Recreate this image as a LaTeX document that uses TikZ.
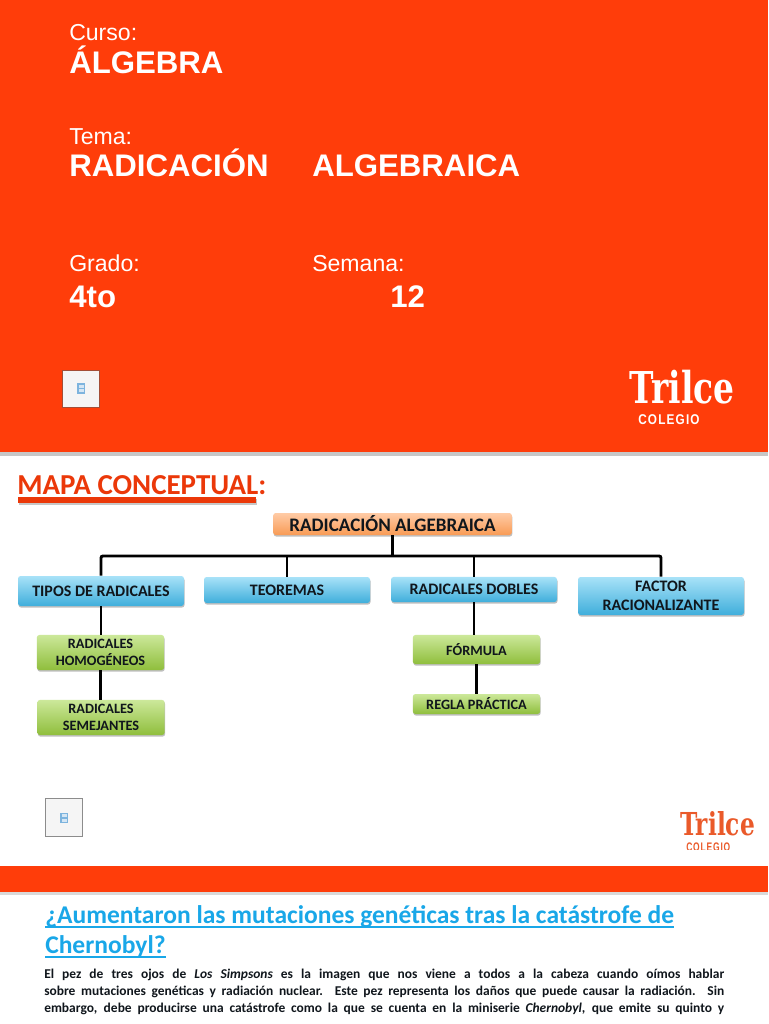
\documentclass[tikz,border=0pt]{standalone}
\usepackage{fontspec}
\setmainfont{Carlito}
\newfontfamily\arialf{Liberation Sans}
\newfontfamily\slabf{DejaVu Serif}
\newfontfamily\colegf[LetterSpace=10]{Liberation Sans}
\usetikzlibrary{shadows}
\definecolor{trilce}{HTML}{FF3D0A}
\definecolor{trilcedim}{HTML}{EA5A2A}
\definecolor{linkblue}{HTML}{19A7E8}
\definecolor{inkc}{HTML}{10161C}
\definecolor{iconblue}{HTML}{7DB4DE}
\definecolor{icontint}{HTML}{D5E6F4}
\definecolor{ortop}{HTML}{FFCBA6}
\definecolor{orbot}{HTML}{F89B55}
\definecolor{bltop}{HTML}{A8E2F8}
\definecolor{blbot}{HTML}{3FAEDB}
\definecolor{grtop}{HTML}{CCE89A}
\definecolor{grbot}{HTML}{8FBE3C}
\tikzset{
  cbox/.style={rounded corners=2pt,inner sep=0pt,align=center,text=inkc,
    font=\fontsize{12pt}{13.8pt}\selectfont\bfseries,
    drop shadow={shadow xshift=0.4pt,shadow yshift=-1.2pt,fill=black,opacity=.25}},
  orbox/.style={cbox,top color=ortop,bottom color=orbot,font=\fontsize{14.3pt}{16pt}\selectfont\bfseries},
  blbox/.style={cbox,top color=bltop,bottom color=blbot},
  grbox/.style={cbox,top color=grtop,bottom color=grbot,font=\fontsize{10.7pt}{12.8pt}\selectfont\bfseries},
  link/.style={line width=2.2pt,black,rounded corners=1.5pt},
  head/.style={anchor=base west,inner sep=0pt,text=white,font=\arialf\fontsize{17.3pt}{20pt}\selectfont},
  headb/.style={anchor=base west,inner sep=0pt,text=white,font=\arialf\bfseries\fontsize{23.4pt}{26pt}\selectfont},
  ttl/.style={anchor=base west,inner sep=0pt,text=linkblue,font=\bfseries\fontsize{19.15pt}{22pt}\selectfont},
  bodyline/.style={anchor=base west,inner sep=0pt,text=inkc,font=\fontsize{10.1pt}{12.8pt}\selectfont\bfseries},
  iconbox/.style={rectangle,fill=white!96!black,inner sep=0pt,minimum width=28pt,minimum height=28pt},
  iconmark/.style={draw=iconblue,line width=1.1pt,fill=icontint},
  logo/.style={anchor=base west,inner sep=0pt},
}
\begin{document}
\begin{tikzpicture}[x=0.75pt,y=-0.75pt]
\useasboundingbox (0,0) rectangle (768,1024);
\clip (0,0) rectangle (768,1024);
\fill[white] (0,0) rectangle (768,1024);
% header band
\fill[black!22] (0,452) rectangle (768,456);
\fill[trilce] (0,0) rectangle (768,452);
\node[head] (curso) at (69,41) {Curso:};
\node[headb] (alg) at (69,74) {ÁLGEBRA};
\node[head] (tema) at (69,144) {Tema:};
\node[headb] (rad) at (69,176) {RADICACIÓN};
\node[headb] (algb) at (312,176) {ALGEBRAICA};
\node[head] (grado) at (69,271) {Grado:};
\node[head] (semana) at (312,271) {Semana:};
\node[headb] (cuarto) at (69,307) {4to};
\node[headb] (doce) at (390,307) {12};
% icon 1
\node[iconbox,draw=trilce!55!black!80!white,line width=.8pt] (ic1) at (81,389) {};
\draw[iconmark] (78,384) rectangle (84.5,393);
\draw[iconblue,line width=.9pt] (78,388.5) -- (84.5,388.5);
% logo 1
\node[logo,text=white] (lg1) at (629,403) {\resizebox{79pt}{25pt}{\slabf\bfseries Trilce}};
\node[logo,text=white] (cg1) at (638,424.5) {\resizebox{46pt}{7.4pt}{\colegf\bfseries COLEGIO}};
% section title
\node[anchor=base west,inner sep=0pt,text=trilce!92!black,font=\bfseries\fontsize{21.7pt}{24pt}\selectfont] (mapa) at (17,494) {MAPA CONCEPTUAL:};
\fill[black!22] (19,499) rectangle (257,505);
\fill[trilce!92!black] (18,497) rectangle (256,503);
% concept map
\coordinate (bus) at (392.5,556);
\node[orbox,minimum width=179pt,minimum height=16.5pt] (root) at (392.5,524) {RADICACIÓN ALGEBRAICA};
\node[blbox,minimum width=124.5pt,minimum height=22.5pt] (tipos) at (101,591) {TIPOS DE RADICALES};
\node[blbox,minimum width=124.5pt,minimum height=19.5pt] (teo) at (287,590) {TEOREMAS};
\node[blbox,minimum width=124.5pt,minimum height=18.8pt] (dob) at (474,589.5) {RADICALES DOBLES};
\node[blbox,minimum width=124.5pt,minimum height=28.5pt] (fac) at (661,596) {FACTOR\\RACIONALIZANTE};
\node[grbox,minimum width=95.5pt,minimum height=26.3pt] (hom) at (100.5,652.5) {RADICALES\\HOMOGÉNEOS};
\node[grbox,minimum width=95.5pt,minimum height=26.3pt] (sem) at (101,717.5) {RADICALES\\SEMEJANTES};
\node[grbox,minimum width=95.5pt,minimum height=21.8pt] (for) at (476.5,649.5) {FÓRMULA};
\node[grbox,minimum width=95.5pt,minimum height=15pt] (reg) at (476.5,704) {REGLA PRÁCTICA};
\draw[link] (root.south) -- (bus);
\draw[link] (tipos.north) |- (bus) -| (fac.north);
\draw[link] (teo.north) -- (teo.north |- bus);
\draw[link] (dob.north) -- (dob.north |- bus);
\draw[link] (tipos.south) -- (tipos.south |- hom.north);
\draw[link] (hom.south) -- (hom.south |- sem.north);
\draw[link] (dob.south) -- (dob.south |- for.north);
\draw[link] (for.south) -- (reg.north);
% icon 2
\node[iconbox,draw=black!45,line width=.8pt] (ic2) at (64,817.5) {};
\draw[iconmark] (61,813.5) rectangle (67.5,822.5);
\draw[iconblue,line width=.9pt] (61,818) -- (67.5,818);
% logo 2
\node[logo,text=trilcedim] (lg2) at (680,835) {\resizebox{56pt}{18pt}{\slabf\bfseries Trilce}};
\begin{scope}
\clip (670,840) rectangle (768,849.5);
\node[logo,text=trilcedim] (cg2) at (686,851) {\resizebox{33pt}{6.5pt}{\colegf\bfseries COLEGIO}};
\end{scope}
% band
\fill[black!15] (0,892) rectangle (768,895);
\fill[trilce] (0,866) rectangle (768,892);
% article
\node[ttl] (t1) at (45,923) {¿Aumentaron las mutaciones genéticas tras la catástrofe de};
\node[ttl] (t2) at (45,953) {Chernobyl?};
\draw[linkblue,line width=1pt] ([yshift=-3pt]t1.base west) -- ([yshift=-3pt]t1.base east);
\draw[linkblue,line width=1pt] ([yshift=-3pt]t2.base west) -- ([yshift=-3pt]t2.base east);
\node[bodyline] (b1) at (44,978.5) {\makebox[510pt][s]{El pez de tres ojos de \textit{Los Simpsons} es la imagen que nos viene a todos a la cabeza cuando oímos hablar}};
\node[bodyline] (b2) at (44,995.5) {\makebox[510pt][s]{sobre mutaciones genéticas y radiación nuclear. Este pez representa los daños que puede causar la radiación. Sin}};
\node[bodyline] (b3) at (44,1012.5) {\makebox[510pt][s]{embargo, debe producirse una catástrofe como la que se cuenta en la miniserie \textit{Chernobyl}, que emite su quinto y}};
\end{tikzpicture}
\end{document}
